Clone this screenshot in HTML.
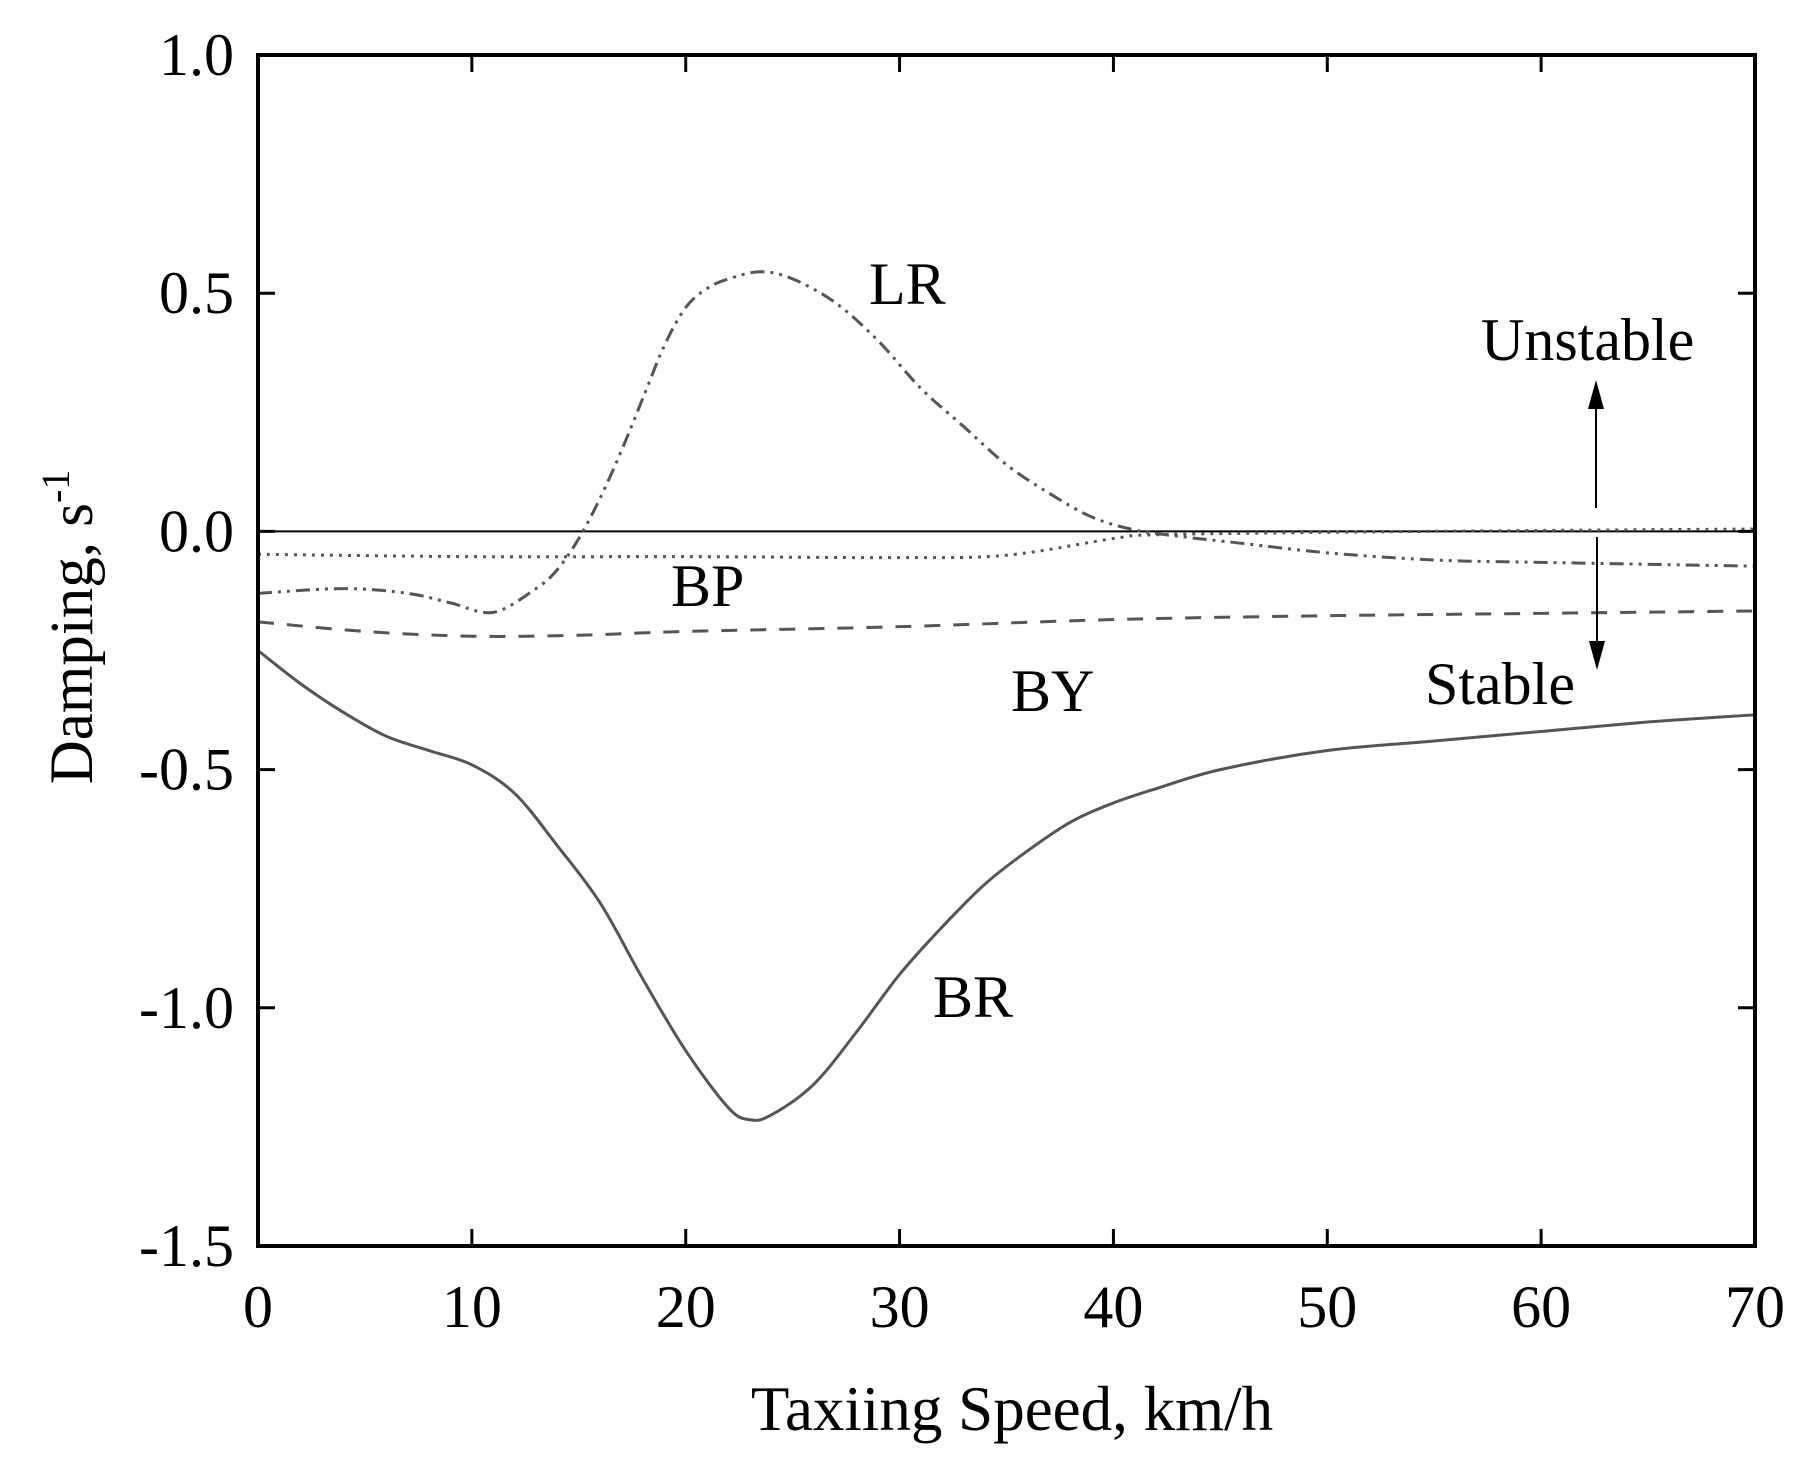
<!DOCTYPE html>
<html><head><meta charset="utf-8"><style>
body{margin:0;background:#fff}
svg{display:block}
text{font-family:"Liberation Serif",serif;fill:#000}
</style></head><body>
<svg width="1811" height="1476" viewBox="0 0 1811 1476">
<g id="plot"></g>
</svg>
<script>
const xTicks=[0,10,20,30,40,50,60,70];
const yTicks=[1.0,0.5,0.0,-0.5,-1.0,-1.5];
const yTickLabels=["1.0","0.5","0.0","-0.5","-1.0","-1.5"];
const brX=[0,2,4,6,8,10,12,14,16,18,20,22,23,24,26,28,30,32,34,36,38,40,42,45,50,55,60,65,70];
const brY=[-0.25,-0.32,-0.38,-0.43,-0.46,-0.49,-0.55,-0.66,-0.78,-0.94,-1.09,-1.21,-1.235,-1.225,-1.16,-1.05,-0.93,-0.83,-0.74,-0.67,-0.61,-0.57,-0.54,-0.5,-0.46,-0.44,-0.42,-0.40,-0.385];
const lrX=[0,4,7,9,11,13,14,15,16,17,18,19,20,21,22,23.5,25,27,29,31,33,35,37,39,41,43,46,50,55,60,70];
const lrY=[-0.13,-0.12,-0.13,-0.15,-0.17,-0.12,-0.08,-0.015,0.07,0.17,0.28,0.39,0.47,0.51,0.53,0.545,0.53,0.48,0.40,0.30,0.22,0.14,0.08,0.03,0.003,-0.01,-0.025,-0.045,-0.06,-0.065,-0.073];
const bpX=[0,10,20,30,35,40,42,50,60,70];
const bpY=[-0.048,-0.053,-0.053,-0.055,-0.05,-0.015,-0.007,-0.002,0.002,0.005];
const byX=[0,5,10,15,20,30,40,50,60,70];
const byY=[-0.19,-0.21,-0.22,-0.218,-0.21,-0.2,-0.185,-0.177,-0.172,-0.167];

const L=258,R=1755,T=55,B=1246;
const X=v=>L+(v-0)/70*(R-L);
const Y=v=>T+(1-v)/2.5*(B-T);
const NS="http://www.w3.org/2000/svg";
const g=document.getElementById('plot');
function mk(tag,attrs,txt){const e=document.createElementNS(NS,tag);for(const k in attrs)e.setAttribute(k,attrs[k]);if(txt!==undefined)e.textContent=txt;g.appendChild(e);return e;}
function smooth(xs,ys){
  const p=xs.map((x,i)=>[X(x),Y(ys[i])]);
  let d="M"+p[0][0]+","+p[0][1];
  for(let i=0;i<p.length-1;i++){
    const p0=p[i-1]||p[i],p1=p[i],p2=p[i+1],p3=p[i+2]||p2;
    const c1=[p1[0]+(p2[0]-p0[0])/6,p1[1]+(p2[1]-p0[1])/6];
    const c2=[p2[0]-(p3[0]-p1[0])/6,p2[1]-(p3[1]-p1[1])/6];
    d+=" C"+c1[0]+","+c1[1]+" "+c2[0]+","+c2[1]+" "+p2[0]+","+p2[1];
  }
  return d;
}
let e=mk('line',{x1:X(0),x2:X(70),y1:Y(0),y2:Y(0),stroke:'#000','stroke-width':2});


e=mk('path',{d:smooth(bpX,bpY),fill:'none',stroke:'#555','stroke-width':3,'stroke-dasharray':'3 6'});


e=mk('path',{d:smooth(byX,byY),fill:'none',stroke:'#555','stroke-width':3,'stroke-dasharray':'16 13'});


e=mk('path',{d:smooth(lrX,lrY),fill:'none',stroke:'#555','stroke-width':3,'stroke-dasharray':'14 6 3 6 3 6'});


e=mk('path',{d:smooth(brX,brY),fill:'none',stroke:'#555','stroke-width':3});


e=mk('rect',{x:L,y:T,width:R-L,height:B-T,fill:'none',stroke:'#000','stroke-width':4});


xTicks.forEach(v=>{
  let t=mk('line',{x1:X(v),x2:X(v),y1:B,y2:B-17,stroke:'#000','stroke-width':3});
  
  
  t=mk('line',{x1:X(v),x2:X(v),y1:T,y2:T+17,stroke:'#000','stroke-width':3});
  
  
  t=mk('text',{x:X(v),y:1327,'font-size':60,'text-anchor':'middle'},String(v));
  
  
});
yTicks.forEach((v,i)=>{
  let t=mk('line',{x1:L,x2:L+17,y1:Y(v),y2:Y(v),stroke:'#000','stroke-width':3});
  
  
  t=mk('line',{x1:R,x2:R-17,y1:Y(v),y2:Y(v),stroke:'#000','stroke-width':3});
  
  
  t=mk('text',{x:234,y:Y(v)+20,'font-size':60,'text-anchor':'end'},yTickLabels[i]);
  
  
});
function label(txt,x,y,name){const t=mk('text',{x:x,y:y,'font-size':60},txt);}
label('LR',869,304,'lr-label');
label('BP',671,606,'bp-label');
label('BY',1011,711,'by-label');
label('BR',933,1017,'br-label');
label('Unstable',1481,360,'unstable-label');
label('Stable',1425,704,'stable-label');
e=mk('text',{x:1012,y:1430,'font-size':63,'text-anchor':'middle'},'Taxiing Speed, km/h');


e=mk('text',{transform:'translate(92,627) rotate(-90)','font-size':61,'text-anchor':'middle'});
e.innerHTML='Damping, s<tspan dy="-23" font-size="40">-1</tspan>';


e=mk('line',{x1:1596,x2:1596,y1:508,y2:400,stroke:'#000','stroke-width':2});


e=mk('polygon',{points:'1596,380 1588,409 1604,409',fill:'#000'});


e=mk('line',{x1:1597,x2:1597,y1:537,y2:650,stroke:'#000','stroke-width':2});


e=mk('polygon',{points:'1597,670 1589,641 1605,641',fill:'#000'});


</script>
</body></html>
